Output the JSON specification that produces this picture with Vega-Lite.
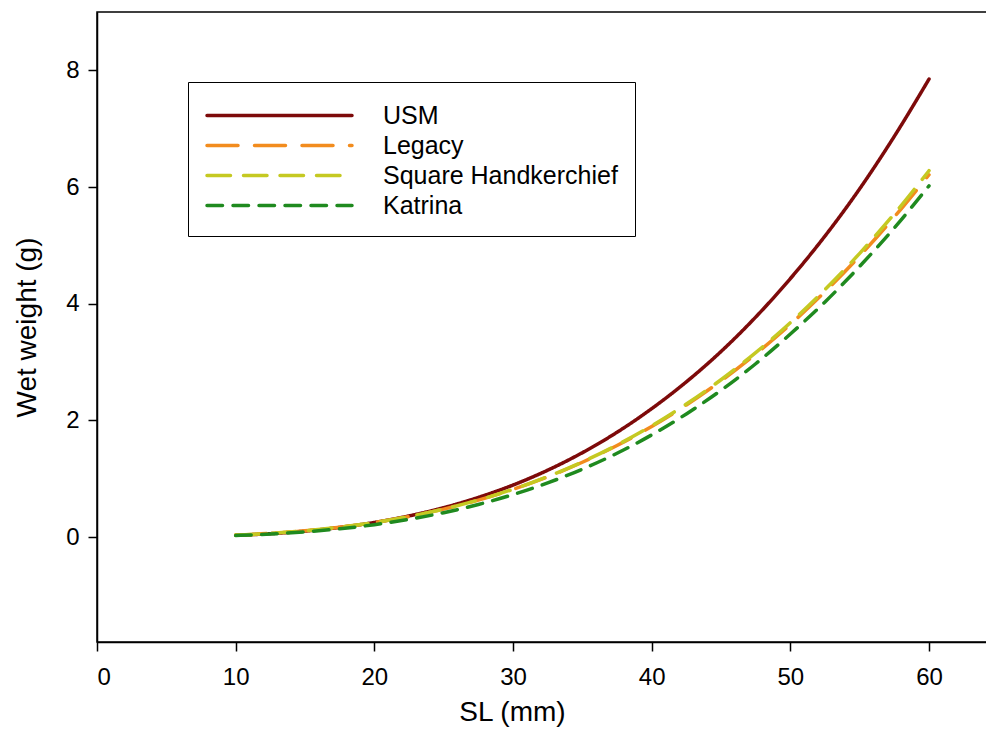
{
  "$schema": "https://vega.github.io/schema/vega-lite/v6.json",
  "width": 890,
  "height": 630,
  "autosize": {"type": "none"},
  "padding": {"left": 97, "top": 12, "right": 0, "bottom": 104},
  "background": "white",
  "config": {
    "font": "Liberation Sans",
    "view": {"stroke": "black", "strokeWidth": 1.5},
    "axis": {"grid": false, "domainColor": "black", "domainWidth": 1.5, "tickColor": "black", "tickWidth": 1.5, "tickSize": 9, "labelColor": "black", "titleColor": "black", "labelFont": "Liberation Sans", "titleFont": "Liberation Sans", "labelFontSize": 24, "titleFontSize": 28, "titleFontWeight": "normal"}
  },
  "data": {"values": [
    {"series": "USM", "SL": 10, "W": 0.0283},
    {"series": "USM", "SL": 12.5, "W": 0.057},
    {"series": "USM", "SL": 15, "W": 0.101},
    {"series": "USM", "SL": 17.5, "W": 0.164},
    {"series": "USM", "SL": 20, "W": 0.249},
    {"series": "USM", "SL": 22.5, "W": 0.361},
    {"series": "USM", "SL": 25, "W": 0.502},
    {"series": "USM", "SL": 27.5, "W": 0.678},
    {"series": "USM", "SL": 30, "W": 0.89},
    {"series": "USM", "SL": 32.5, "W": 1.145},
    {"series": "USM", "SL": 35, "W": 1.445},
    {"series": "USM", "SL": 37.5, "W": 1.795},
    {"series": "USM", "SL": 40, "W": 2.2},
    {"series": "USM", "SL": 42.5, "W": 2.66},
    {"series": "USM", "SL": 45, "W": 3.18},
    {"series": "USM", "SL": 47.5, "W": 3.77},
    {"series": "USM", "SL": 50, "W": 4.43},
    {"series": "USM", "SL": 52.5, "W": 5.16},
    {"series": "USM", "SL": 55, "W": 5.97},
    {"series": "USM", "SL": 57.5, "W": 6.87},
    {"series": "USM", "SL": 60, "W": 7.85},
    {"series": "Legacy", "SL": 10, "W": 0.0324},
    {"series": "Legacy", "SL": 12.5, "W": 0.0624},
    {"series": "Legacy", "SL": 15, "W": 0.1066},
    {"series": "Legacy", "SL": 17.5, "W": 0.1678},
    {"series": "Legacy", "SL": 20, "W": 0.2486},
    {"series": "Legacy", "SL": 22.5, "W": 0.351},
    {"series": "Legacy", "SL": 25, "W": 0.478},
    {"series": "Legacy", "SL": 27.5, "W": 0.632},
    {"series": "Legacy", "SL": 30, "W": 0.816},
    {"series": "Legacy", "SL": 32.5, "W": 1.031},
    {"series": "Legacy", "SL": 35, "W": 1.281},
    {"series": "Legacy", "SL": 37.5, "W": 1.569},
    {"series": "Legacy", "SL": 40, "W": 1.895},
    {"series": "Legacy", "SL": 42.5, "W": 2.264},
    {"series": "Legacy", "SL": 45, "W": 2.677},
    {"series": "Legacy", "SL": 47.5, "W": 3.137},
    {"series": "Legacy", "SL": 50, "W": 3.645},
    {"series": "Legacy", "SL": 52.5, "W": 4.206},
    {"series": "Legacy", "SL": 55, "W": 4.818},
    {"series": "Legacy", "SL": 57.5, "W": 5.487},
    {"series": "Legacy", "SL": 60, "W": 6.21},
    {"series": "Square Handkerchief", "SL": 10, "W": 0.0324},
    {"series": "Square Handkerchief", "SL": 12.5, "W": 0.0624},
    {"series": "Square Handkerchief", "SL": 15, "W": 0.1066},
    {"series": "Square Handkerchief", "SL": 17.5, "W": 0.1678},
    {"series": "Square Handkerchief", "SL": 20, "W": 0.2486},
    {"series": "Square Handkerchief", "SL": 22.5, "W": 0.3513},
    {"series": "Square Handkerchief", "SL": 25, "W": 0.4789},
    {"series": "Square Handkerchief", "SL": 27.5, "W": 0.6337},
    {"series": "Square Handkerchief", "SL": 30, "W": 0.8187},
    {"series": "Square Handkerchief", "SL": 32.5, "W": 1.035},
    {"series": "Square Handkerchief", "SL": 35, "W": 1.287},
    {"series": "Square Handkerchief", "SL": 37.5, "W": 1.577},
    {"series": "Square Handkerchief", "SL": 40, "W": 1.906},
    {"series": "Square Handkerchief", "SL": 42.5, "W": 2.279},
    {"series": "Square Handkerchief", "SL": 45, "W": 2.696},
    {"series": "Square Handkerchief", "SL": 47.5, "W": 3.161},
    {"series": "Square Handkerchief", "SL": 50, "W": 3.675},
    {"series": "Square Handkerchief", "SL": 52.5, "W": 4.243},
    {"series": "Square Handkerchief", "SL": 55, "W": 4.863},
    {"series": "Square Handkerchief", "SL": 57.5, "W": 5.541},
    {"series": "Square Handkerchief", "SL": 60, "W": 6.28},
    {"series": "Katrina", "SL": 10, "W": 0.0255},
    {"series": "Katrina", "SL": 12.5, "W": 0.0503},
    {"series": "Katrina", "SL": 15, "W": 0.0878},
    {"series": "Katrina", "SL": 17.5, "W": 0.1405},
    {"series": "Katrina", "SL": 20, "W": 0.2111},
    {"series": "Katrina", "SL": 22.5, "W": 0.3024},
    {"series": "Katrina", "SL": 25, "W": 0.4168},
    {"series": "Katrina", "SL": 27.5, "W": 0.5571},
    {"series": "Katrina", "SL": 30, "W": 0.7269},
    {"series": "Katrina", "SL": 32.5, "W": 0.9277},
    {"series": "Katrina", "SL": 35, "W": 1.163},
    {"series": "Katrina", "SL": 37.5, "W": 1.435},
    {"series": "Katrina", "SL": 40, "W": 1.75},
    {"series": "Katrina", "SL": 42.5, "W": 2.11},
    {"series": "Katrina", "SL": 45, "W": 2.515},
    {"series": "Katrina", "SL": 47.5, "W": 2.97},
    {"series": "Katrina", "SL": 50, "W": 3.48},
    {"series": "Katrina", "SL": 52.5, "W": 4.03},
    {"series": "Katrina", "SL": 55, "W": 4.64},
    {"series": "Katrina", "SL": 57.5, "W": 5.3},
    {"series": "Katrina", "SL": 60, "W": 6.02}
  ]},
  "mark": {"type": "line", "strokeWidth": 3.5, "strokeCap": "round", "interpolate": "monotone", "clip": true},
  "encoding": {
    "x": {"field": "SL", "type": "quantitative", "title": "SL (mm)",
      "scale": {"domain": [0, 64.18], "nice": false, "zero": false},
      "axis": {"values": [0, 10, 20, 30, 40, 50, 60], "labelPadding": 14, "titleX": 415, "titleY": 70, "titleBaseline": "middle", "titleAnchor": "middle", "titleAlign": "center"}},
    "y": {"field": "W", "type": "quantitative", "title": "Wet weight (g)",
      "scale": {"domain": [-1.8, 9], "nice": false, "zero": false},
      "axis": {"values": [0, 2, 4, 6, 8], "labelPadding": 9, "titleX": -70, "titleBaseline": "middle"}},
    "color": {"field": "series", "type": "nominal",
      "scale": {"domain": ["USM", "Legacy", "Square Handkerchief", "Katrina"], "range": ["#7d0a0a", "#f28c1e", "#c5c922", "#1f8a1f"]},
      "legend": {"title": null, "orient": "none", "legendX": 91, "legendY": 70, "symbolType": "M-1,0H9", "symbolSize": 841, "symbolStrokeWidth": 3.5, "labelOffset": 145, "labelFontSize": 25, "labelLimit": 500, "labelColor": "black", "padding": 17, "rowPadding": 0, "strokeColor": "black", "fillColor": "white", "labelFont": "Liberation Sans",
        "encode": {"symbols": {"update": {"strokeCap": {"value": "round"}}}}}},
    "strokeDash": {"field": "series", "type": "nominal",
      "scale": {"domain": ["USM", "Legacy", "Square Handkerchief", "Katrina"], "range": [[1, 0], [31, 16.5], [23.5, 13], [15.5, 10.5]]},
      "legend": null}
  }
}
